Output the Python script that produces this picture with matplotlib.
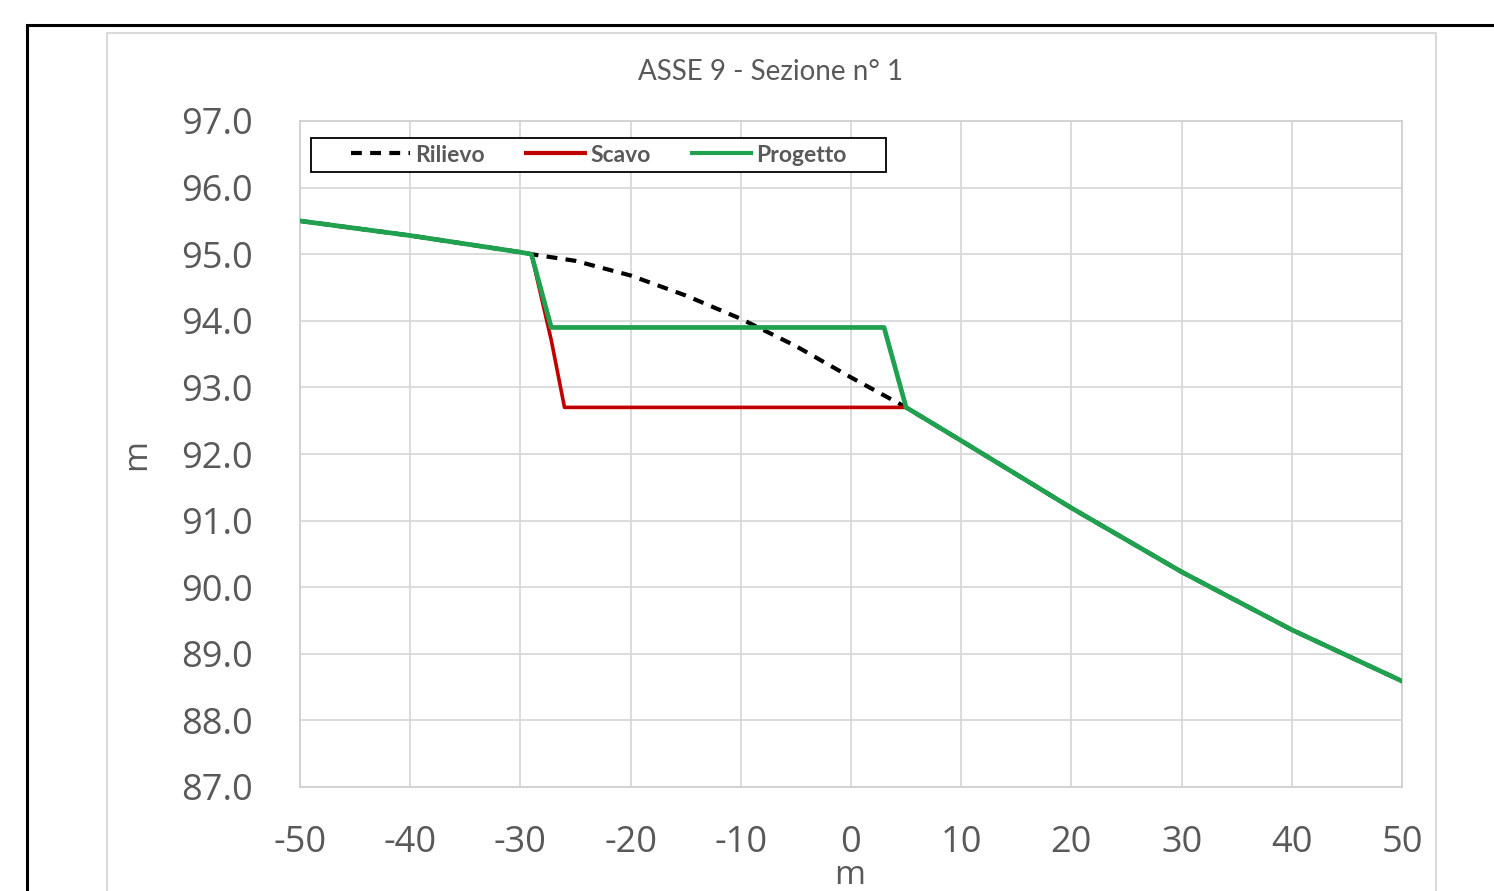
import matplotlib
matplotlib.use("Agg")
import matplotlib.pyplot as plt
from matplotlib.patches import Rectangle
from matplotlib.lines import Line2D

plt.rcParams["axes.unicode_minus"] = False

# dati
rilievo_x = [-50, -40, -30, -29, -25, -20, -15, -10, -5, 0, 5, 10, 20, 30, 40, 50]
rilievo_y = [95.5, 95.28, 95.03, 95.0, 94.9, 94.68, 94.38, 94.03, 93.62, 93.15, 92.7,
             92.2, 91.19, 90.23, 89.36, 88.59]
scavo_x = [-50, -40, -30, -29, -27.2, -26, 5, 10, 20, 30, 40, 50]
scavo_y = [95.5, 95.28, 95.03, 95.0, 93.71, 92.7, 92.7, 92.2, 91.19, 90.23, 89.36, 88.59]
progetto_x = [-50, -40, -30, -29, -27.2, 3, 5, 10, 20, 30, 40, 50]
progetto_y = [95.5, 95.28, 95.03, 95.0, 93.9, 93.9, 92.7, 92.2, 91.19, 90.23, 89.36, 88.59]

x_ticks = list(range(-50, 51, 10))
y_ticks = list(range(87, 98))

W, H = 1494, 891
fig = plt.figure(figsize=(W / 100, H / 100), dpi=100)
fig.patch.set_facecolor("white")

# cornici esterne
fig.patches.append(Rectangle((27 / W, -0.2), 1.2, 1 - 25 / H + 0.2, transform=fig.transFigure,
                             fill=False, edgecolor="black", lw=2.2, zorder=0))
fig.patches.append(Rectangle((107 / W, -0.2), (1436 - 107) / W, 1 - 33 / H + 0.2,
                             transform=fig.transFigure, fill=False, edgecolor="#d9d9d9",
                             lw=1.5, zorder=0))

ax = fig.add_axes([300 / W, 1 - 787 / H, (1402 - 300) / W, (787 - 121) / H])

dash = (0, (2.6, 2.0))
ax.plot(rilievo_x, rilievo_y, color="black", lw=3, ls=dash, zorder=3, label="Rilievo")
ax.plot(scavo_x, scavo_y, color="#c00000", lw=2.6, zorder=4, label="Scavo")
ax.plot(progetto_x, progetto_y, color="#1fa14f", lw=3.4, zorder=5, label="Progetto")

ax.set_xlim(-50, 50)
ax.set_ylim(87, 97)
ax.set_xticks(x_ticks)
ax.set_yticks(y_ticks)
ax.set_yticklabels([f"{v:.1f}" for v in y_ticks])
ax.grid(True, color="#d9d9d9", lw=1.3)
ax.set_axisbelow(True)
for s in ax.spines.values():
    s.set_color("#d0d0d0")
    s.set_linewidth(1.3)
ax.tick_params(length=0, labelsize=26, labelcolor="#595959")
ax.tick_params(axis="y", pad=34)
ax.tick_params(axis="x", pad=27)
for lab in ax.get_xticklabels() + ax.get_yticklabels():
    lab.set_fontfamily("Open Sans")

fig.text(771 / W, 1 - 72 / H, "ASSE 9 - Sezione n° 1", ha="center", va="center",
         fontsize=20, color="#595959", family="Lato")
fig.text(137 / W, 1 - 455 / H, "m", ha="center", va="center", rotation=90,
         fontsize=24, color="#595959", family="Open Sans")
fig.text(850 / W, 1 - 876 / H, "m", ha="center", va="center",
         fontsize=24, color="#595959", family="Open Sans")

# riquadro legenda
ax.add_patch(Rectangle(((311 - 300) / 1102, 1 - (172 - 121) / 666), (886 - 311) / 1102,
                       (172 - 138) / 666, transform=ax.transAxes, facecolor="white",
                       edgecolor="black", lw=1.3, zorder=9))
handles = [Line2D([], [], color="black", lw=3, ls=dash),
           Line2D([], [], color="#c00000", lw=3),
           Line2D([], [], color="#1fa14f", lw=3)]
leg = ax.legend(handles, ["Rilievo", "Scavo", "Progetto"], ncol=3, loc="center",
                bbox_to_anchor=((598.5 - 300) / 1102, 1 - (155 - 121) / 666), frameon=False,
                handlelength=2.6, handletextpad=0.2, columnspacing=1.8, borderpad=0,
                borderaxespad=0,
                prop={"family": "Lato", "weight": "bold", "size": 16.5})
for t in leg.get_texts():
    t.set_color("#595959")
leg.set_zorder(10)

fig.savefig("out.png", dpi=100)
